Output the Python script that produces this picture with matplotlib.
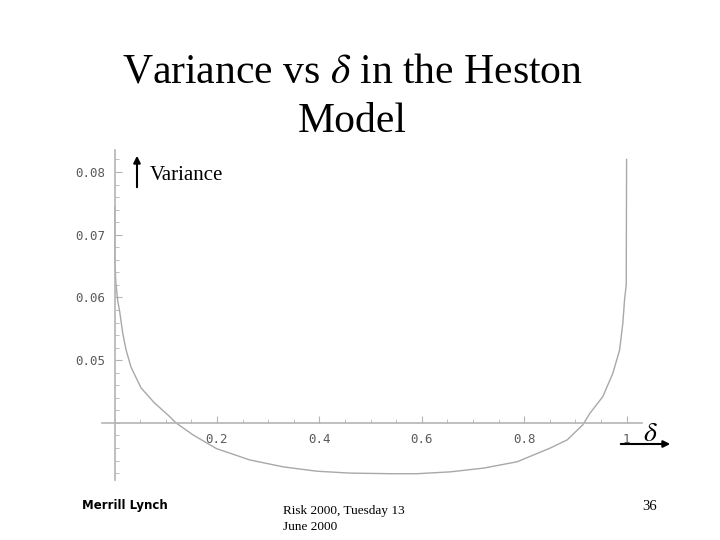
import matplotlib
matplotlib.use("Agg")
import matplotlib.pyplot as plt
from matplotlib.patches import FancyArrowPatch
from matplotlib.ticker import MultipleLocator, FixedLocator

# values
delta = [0.0004, 0.0006, 0.0025, 0.0059, 0.0104, 0.0157, 0.0222, 0.032,
         0.0515, 0.0777, 0.1037, 0.12, 0.153, 0.199, 0.264, 0.329, 0.395,
         0.460, 0.541, 0.590, 0.656, 0.721, 0.786, 0.851, 0.884, 0.9145,
         0.928, 0.9535, 0.973, 0.9862, 0.9926, 0.9959, 0.9992, 0.9999]
variance = [0.0745, 0.0660, 0.0623, 0.0596, 0.0575, 0.0544, 0.0517, 0.0489,
            0.0456, 0.0432, 0.0413, 0.0400, 0.0381, 0.0359, 0.0341, 0.0330,
            0.0323, 0.0320, 0.0319, 0.0319, 0.0322, 0.0328, 0.0338, 0.0360,
            0.0373, 0.0397, 0.0415, 0.0442, 0.0479, 0.0516, 0.0559, 0.0596,
            0.0620, 0.0820]

x_ticks = [0.2, 0.4, 0.6, 0.8, 1.0]
x_tick_labels = ["0.2", "0.4", "0.6", "0.8", "1"]
y_ticks = [0.05, 0.06, 0.07, 0.08]
y_tick_labels = ["0.05", "0.06", "0.07", "0.08"]

title = "Variance vs $\\delta$ in the Heston\nModel"
footer_mid = "Risk 2000, Tuesday 13\nJune 2000"
page_no = "36"

AXIS_GRAY = "#b4b4b4"
CURVE_GRAY = "#a8a8a8"
LABEL_GRAY = "#5a5a5a"

plt.rcParams["mathtext.fontset"] = "stix"

fig = plt.figure(figsize=(7.2, 5.4), dpi=100)
W, H = 720.0, 540.0

# axes placed so that x=0 sits at px ~115 and y=0.04 at px 423
ax = fig.add_axes([102.3 / W, (540 - 480) / H, (642 - 102.3) / W, (480 - 150) / H])
ax.set_xlim(-0.024, 1.03)
ax.set_ylim(0.0309, 0.0835)

ax.plot(delta, variance, color=CURVE_GRAY, lw=1.0)

for s in ["top", "right"]:
    ax.spines[s].set_visible(False)
ax.spines["left"].set_position(("data", 0))
ax.spines["bottom"].set_position(("data", 0.04))
for s in ["left", "bottom"]:
    ax.spines[s].set_color(AXIS_GRAY)
    ax.spines[s].set_linewidth(1.2)

ax.xaxis.set_major_locator(FixedLocator(x_ticks))
ax.set_xticklabels(x_tick_labels)
ax.yaxis.set_major_locator(FixedLocator(y_ticks))
ax.set_yticklabels(y_tick_labels)
ax.xaxis.set_minor_locator(MultipleLocator(0.05))
ax.yaxis.set_minor_locator(MultipleLocator(0.002))
ax.tick_params(which="major", direction="in", length=5, color=AXIS_GRAY,
               labelcolor=LABEL_GRAY, labelsize=9, pad=7)
ax.tick_params(which="minor", direction="in", length=3, color=AXIS_GRAY)
for lab in ax.get_xticklabels() + ax.get_yticklabels():
    lab.set_family("DejaVu Sans Mono")
ax.patch.set_alpha(0)

# title
fig.text(352 / W, 1 - 97 / H, title, ha="center", va="center",
         family="Liberation Serif", fontsize=30, linespacing=1.4)

# axis arrows and names
fig.patches.append(FancyArrowPatch(
    (137 / W, 1 - 190 / H), (137 / W, 1 - 153 / H), transform=fig.transFigure,
    arrowstyle="-|>,head_length=4,head_width=2", color="black", lw=1.5))
fig.text(150 / W, 1 - 176 / H, "Variance", ha="left", va="center",
         family="Liberation Serif", fontsize=15)
fig.patches.append(FancyArrowPatch(
    (618 / W, 1 - 444 / H), (673 / W, 1 - 444 / H), transform=fig.transFigure,
    arrowstyle="-|>,head_length=4,head_width=2", color="black", lw=1.5))
fig.text(650 / W, 1 - 433 / H, "$\\delta$", ha="center", va="center", fontsize=20)

# footer
fig.text(82 / W, 1 - 506 / H, "Merrill Lynch", ha="left", va="center",
         family="DejaVu Sans", weight="heavy", fontsize=8.5)
fig.text(283 / W, 1 - 519 / H, footer_mid, ha="left", va="center",
         family="Liberation Serif", fontsize=9.5, linespacing=1.55)
fig.text(650 / W, 1 - 507 / H, page_no, ha="center", va="center",
         family="Liberation Serif", fontsize=10.5)

fig.savefig("out.png", dpi=100)
